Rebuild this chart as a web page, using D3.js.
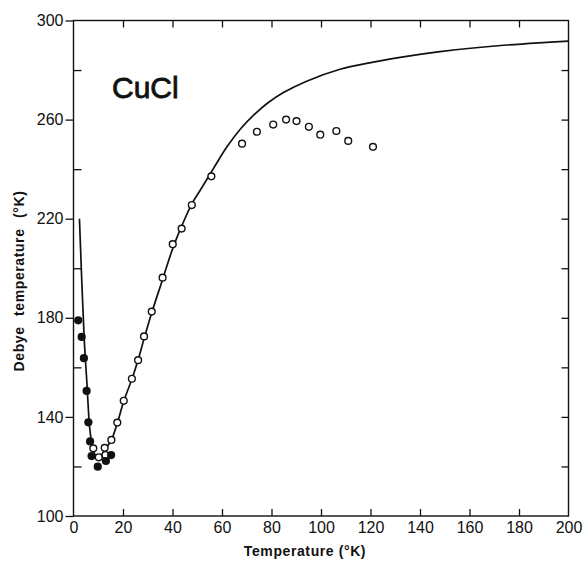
<!DOCTYPE html>
<html><head><meta charset="utf-8">
<script src="https://cdn.jsdelivr.net/npm/d3@7"></script>
<style>html,body{margin:0;padding:0;background:#fff;}</style>
</head><body>
<svg id="c" width="585" height="562"></svg>
<script>
// ---- data ----
const xTicks = [0,20,40,60,80,100,120,140,160,180,200];
const yLabelTicks = [100,140,180,220,260,300];
const yMinorTicks = [120,160,200,240,280];
const yAllTicks = [120,140,160,180,200,220,240,260,280];

// filled circles: T (K), Debye temperature (K)
const filledT =  [1.9, 3.3, 4.2, 5.3, 6.0, 6.7, 7.3, 9.8, 13.1, 15.2];
const filledTh = [179, 172.3, 163.7, 150.5, 137.8, 130.1, 124.2, 119.9, 122.2, 124.6];

// open circles
const openT =  [8.0, 10.2, 12.6, 12.9, 15.3, 17.7, 20.3, 23.6, 26.1, 28.5, 31.6, 36.0, 40.1, 43.7, 47.8, 55.7,
                68.1, 74.1, 80.7, 85.9, 90.1, 95.1, 99.7, 106.2, 111.0, 121.0];
const openTh = [127.3, 123.7, 127.5, 124.6, 130.7, 137.7, 146.5, 155.4, 162.9, 172.5, 182.5, 196.2, 209.7, 216, 225.5, 237.1,
                250.3, 255.1, 258, 260, 259.4, 257.1, 253.9, 255.4, 251.4, 249];

// theoretical curve
const curveT =  [2.4, 4.3, 5.4, 6.6, 7.8, 9.5, 10.5, 12.4, 15.3, 17.7, 20.3, 23.6, 26.1, 28.5, 31.6, 36, 40.1, 43.7, 47.8,
                 51.2, 56.7, 62, 67.7, 73, 78.6, 85, 94.2, 107.7, 121.1, 134.6, 148.1, 161.5, 175, 188, 200];
const curveTh = [220, 172, 154, 135, 127.5, 123.3, 123.5, 126.3, 130.7, 137.5, 146.3, 155.3, 163, 171.5, 182, 195.5, 208, 217, 226,
                 231.5, 240.5, 249, 256.5, 262, 266.8, 271, 275.5, 280.3, 283.2, 285.5, 287.4, 288.9, 290.1, 291, 291.7];

const materialLabel = "CuCl";
const xTitle = "Temperature (°K)";
const yTitle = "Debye temperature (°K)";

// ---- layout ----
const L = 73.5, R = 568.5, T = 20.5, B = 516;
const svg = d3.select("#c");
const x = d3.scaleLinear().domain([0,200]).range([L,R]);
const y = d3.scaleLinear().domain([100,300]).range([B,T]);
const font = "'Liberation Sans', Arial, sans-serif";

function styleAxis(g){
  g.select(".domain").remove();
  g.selectAll(".tick line").attr("stroke","#111").attr("stroke-width",1.3);
  g.selectAll("text").attr("fill","#111").style("font-family",font).style("font-size","16px");
}

// bottom axis: inward ticks, labels below
svg.append("g").attr("transform",`translate(0,${B})`)
  .call(d3.axisBottom(x).tickValues(xTicks.slice(1,-1)).tickSizeInner(-7).tickSizeOuter(0).tickPadding(5).tickFormat(()=>""))
  .call(styleAxis);
svg.append("g").attr("transform",`translate(0,${B})`)
  .call(d3.axisBottom(x).tickValues(xTicks).tickSize(0).tickPadding(6).tickFormat(d3.format("d")))
  .call(styleAxis);
// top axis: inward ticks
svg.append("g").attr("transform",`translate(0,${T})`)
  .call(d3.axisBottom(x).tickValues(xTicks.slice(1,-1)).tickSize(7).tickFormat(()=>""))
  .call(styleAxis);
// left axis: labelled ticks outward
svg.append("g").attr("transform",`translate(${L},0)`)
  .call(d3.axisLeft(y).tickValues(yLabelTicks).tickSize(8).tickPadding(2).tickFormat(d3.format("d")))
  .call(styleAxis);
// left axis: unlabelled ticks inward
svg.append("g").attr("transform",`translate(${L},0)`)
  .call(d3.axisRight(y).tickValues(yMinorTicks).tickSize(8).tickFormat(()=>""))
  .call(styleAxis);
// right axis: inward ticks
svg.append("g").attr("transform",`translate(${R},0)`)
  .call(d3.axisLeft(y).tickValues(yAllTicks).tickSize(7).tickFormat(()=>""))
  .call(styleAxis);

// frame
svg.append("rect").attr("x",L).attr("y",T).attr("width",R-L).attr("height",B-T)
  .attr("fill","none").attr("stroke","#111").attr("stroke-width",1.4);

// curve
const curveData = curveT.map((t,i)=>[t,curveTh[i]]);
svg.append("path").datum(curveData)
  .attr("d", d3.line().x(d=>x(d[0])).y(d=>y(d[1])).curve(d3.curveCatmullRom.alpha(0.5)))
  .attr("fill","none").attr("stroke","#111").attr("stroke-width",1.7);

// open circles
svg.append("g").selectAll("circle").data(openT.map((t,i)=>[t,openTh[i]])).join("circle")
  .attr("cx",d=>x(d[0])).attr("cy",d=>y(d[1])).attr("r",3.4)
  .attr("fill","#fff").attr("stroke","#111").attr("stroke-width",1.4);

// filled circles
svg.append("g").selectAll("circle").data(filledT.map((t,i)=>[t,filledTh[i]])).join("circle")
  .attr("cx",d=>x(d[0])).attr("cy",d=>y(d[1])).attr("r",4.1)
  .attr("fill","#111");

// texts
svg.append("text").attr("x",112).attr("y",98).text(materialLabel)
  .style("font-family",font).style("font-size","30px").attr("fill","#111")
  .attr("stroke","#111").attr("stroke-width",0.8);

svg.append("text").attr("x",305).attr("y",556).attr("text-anchor","middle").text(xTitle)
  .style("font-family",font).style("font-size","14px").style("font-weight","bold")
  .style("letter-spacing","0.6px").attr("fill","#111");

svg.append("text").attr("transform","translate(24,281) rotate(-90)").attr("text-anchor","middle").text(yTitle)
  .style("font-family",font).style("font-size","14px").style("font-weight","bold")
  .style("letter-spacing","0.6px").style("word-spacing","6px").attr("fill","#111");
</script>
</body></html>
